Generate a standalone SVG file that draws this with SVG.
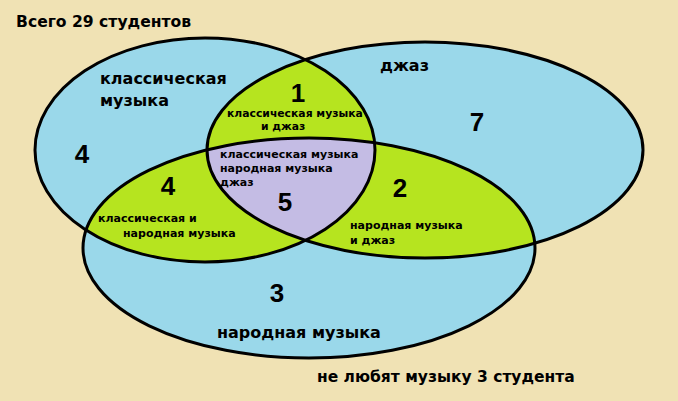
<svg xmlns="http://www.w3.org/2000/svg" width="678" height="401" viewBox="0 0 678 401">
<style>
.t{font-family:"DejaVu Sans",Verdana,sans-serif;font-weight:bold;fill:#000}
.big{font-size:16px}
.sm{font-size:11px}
.num{font-family:"Liberation Sans",Arial,sans-serif;font-size:26px;text-anchor:middle}
.fill-b{fill:#9AD8EA}
.fill-g{fill:#B6E41F}
.fill-l{fill:#C4BCE4}
.edge{fill:none;stroke:#000;stroke-width:3}
</style>
<defs>
<ellipse id="eC" cx="205" cy="150" rx="170" ry="112"/>
<ellipse id="eJ" cx="425" cy="150" rx="218" ry="108"/>
<ellipse id="eF" cx="309" cy="248" rx="226" ry="110"/>
<clipPath id="cC"><use href="#eC"/></clipPath>
<clipPath id="cJ"><use href="#eJ"/></clipPath>
</defs>
<rect width="678" height="401" fill="#F0E2B4"/>
<g id="set-classical"><use href="#eC" class="fill-b"/></g>
<g id="set-jazz"><use href="#eJ" class="fill-b"/></g>
<g id="set-folk"><use href="#eF" class="fill-b"/></g>
<g id="intersections">
<g clip-path="url(#cC)"><use href="#eJ" class="fill-g"/><use href="#eF" class="fill-g"/></g>
<g clip-path="url(#cJ)"><use href="#eF" class="fill-g"/></g>
<g clip-path="url(#cC)"><g clip-path="url(#cJ)"><use href="#eF" class="fill-l"/></g></g>
</g>
<g id="outlines">
<use href="#eC" class="edge"/>
<use href="#eJ" class="edge"/>
<use href="#eF" class="edge"/>
</g>
<g id="labels">
<text class="t big" x="16" y="27" style="font-size:15.6px">Всего 29 студентов</text>
<text class="t big" x="100" y="84">классическая</text>
<text class="t big" x="100" y="106">музыка</text>
<text class="t big" x="380" y="71">джаз</text>
<text class="t big" x="217" y="338">народная музыка</text>
<text class="t big" x="317" y="382" style="font-size:15.5px">не любят музыку 3 студента</text>
<text class="t num" x="82" y="163">4</text>
<text class="t num" x="298" y="102">1</text>
<text class="t num" x="477" y="131">7</text>
<text class="t num" x="168" y="195">4</text>
<text class="t num" x="285" y="211">5</text>
<text class="t num" x="400" y="197">2</text>
<text class="t num" x="277" y="302">3</text>
<text class="t sm" x="227" y="116.5" style="font-size:10.8px">классическая музыка</text>
<text class="t sm" x="261" y="129.5" style="font-size:10.8px">и джаз</text>
<text class="t sm" x="220" y="158">классическая музыка</text>
<text class="t sm" x="220" y="172">народная музыка</text>
<text class="t sm" x="220" y="186">джаз</text>
<text class="t sm" x="98" y="222">классическая и</text>
<text class="t sm" x="123" y="237">народная музыка</text>
<text class="t sm" x="350" y="229">народная музыка</text>
<text class="t sm" x="350" y="244">и джаз</text>
</g>
</svg>
